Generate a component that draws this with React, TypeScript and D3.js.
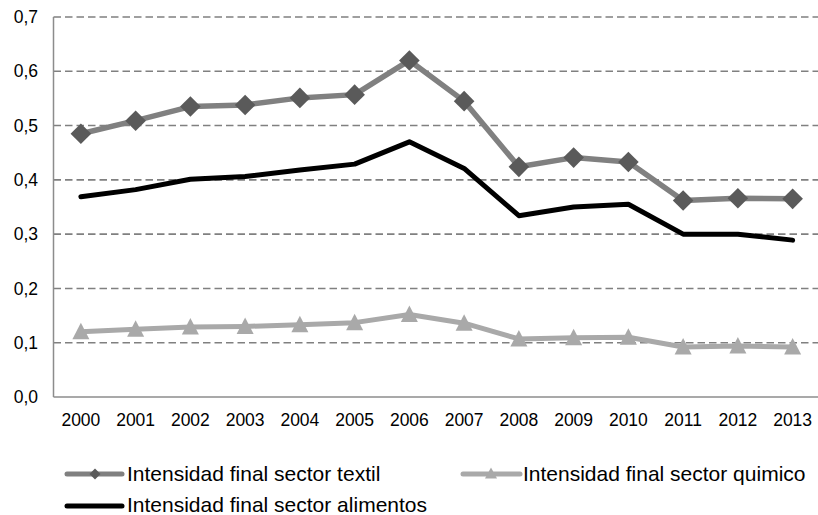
import React from "react";
import * as d3 from "d3";

const years = ["2000","2001","2002","2003","2004","2005","2006","2007","2008","2009","2010","2011","2012","2013"];
const textil = [0.485, 0.509, 0.535, 0.538, 0.551, 0.557, 0.620, 0.545, 0.424, 0.441, 0.433, 0.362, 0.366, 0.365];
const alimentos = [0.369, 0.382, 0.401, 0.406, 0.418, 0.429, 0.470, 0.421, 0.334, 0.350, 0.355, 0.300, 0.300, 0.289];
const quimico = [0.120, 0.125, 0.129, 0.130, 0.133, 0.137, 0.152, 0.136, 0.107, 0.109, 0.110, 0.092, 0.094, 0.092];
const yTicks = [0, 0.1, 0.2, 0.3, 0.4, 0.5, 0.6, 0.7];
const legendLabels = [
  "Intensidad final sector textil",
  "Intensidad final sector quimico",
  "Intensidad final sector alimentos",
];

const W = 818;
const H = 515;
const left = 53.5;
const right = 820;
const top = 17;
const bottom = 397;
const font = "'Liberation Sans', Arial, sans-serif";

const x = d3.scaleBand<string>().domain(years).range([left, right]);
const cx = (y: string) => (x(y) as number) + x.bandwidth() / 2;
const y = d3.scaleLinear().domain([0, 0.7]).range([bottom, top]);
const fmt = (v: number) => d3.format(".1f")(v).replace(".", ",");

const line = d3
  .line<number>()
  .x((_, i) => cx(years[i]))
  .y((v) => y(v));

const diamond = (r: number) => `M0,${-r}L${r},0L0,${r}L${-r},0Z`;
const triangle = (hw: number, up: number, down: number) => `M0,${-up}L${hw},${down}L${-hw},${down}Z`;

const C_TEXTIL = "#808080";
const C_DIAMOND = "#5a5a5a";
const C_QUIM = "#a9a9a9";
const C_ALIM = "#000000";

export default function App() {
  return (
    <svg width={W} height={H} style={{ position: "absolute", left: 0, top: 0, background: "#fff" }}>
      {/* gridlines */}
      {yTicks.filter((t) => t > 0).map((t) => (
        <line key={t} x1={left} x2={W} y1={y(t)} y2={y(t)} stroke="#808080" strokeWidth={1.6} strokeDasharray="7.5 4" />
      ))}
      {/* axes */}
      <line x1={left} x2={left} y1={top} y2={bottom} stroke="#8c8c8c" strokeWidth={1.5} />
      <line x1={left} x2={W} y1={bottom} y2={bottom} stroke="#8c8c8c" strokeWidth={1.5} />
      {yTicks.map((t) => (
        <text key={t} x={38} y={y(t)} dy="0.35em" textAnchor="end" fontFamily={font} fontSize={17.5} fill="#000">
          {fmt(t)}
        </text>
      ))}
      {years.map((yr) => (
        <text key={yr} x={cx(yr)} y={426} textAnchor="middle" fontFamily={font} fontSize={17.5} fill="#000">
          {yr}
        </text>
      ))}

      {/* quimico */}
      <path d={line(quimico) || ""} fill="none" stroke={C_QUIM} strokeWidth={5} strokeLinejoin="round" />
      {quimico.map((v, i) => (
        <path key={i} d={triangle(8.5, 9, 7.5)} transform={`translate(${cx(years[i])},${y(v)})`} fill={C_QUIM} />
      ))}

      {/* alimentos */}
      <path d={line(alimentos) || ""} fill="none" stroke={C_ALIM} strokeWidth={5} strokeLinejoin="round" strokeLinecap="round" />

      {/* textil */}
      <path d={line(textil) || ""} fill="none" stroke={C_TEXTIL} strokeWidth={5.5} strokeLinejoin="round" />
      {textil.map((v, i) => (
        <path key={i} d={diamond(10.3)} transform={`translate(${cx(years[i])},${y(v)})`} fill={C_DIAMOND} />
      ))}

      {/* legend */}
      <g>
        <line x1={67} x2={122} y1={474} y2={474} stroke={C_TEXTIL} strokeWidth={5} strokeLinecap="round" />
        <path d={diamond(5.5)} transform="translate(95,474)" fill={C_DIAMOND} />
        <text x={127} y={481} fontFamily={font} fontSize={21} fill="#000">{legendLabels[0]}</text>

        <line x1={463} x2={520} y1={474} y2={474} stroke={C_QUIM} strokeWidth={5} strokeLinecap="round" />
        <path d={triangle(6, 6.5, 4.5)} transform="translate(491,474)" fill={C_QUIM} />
        <text x={523} y={481} fontFamily={font} fontSize={21} fill="#000">{legendLabels[1]}</text>

        <line x1={67} x2={122} y1={506} y2={506} stroke={C_ALIM} strokeWidth={5} strokeLinecap="round" />
        <text x={127} y={512} fontFamily={font} fontSize={21} fill="#000">{legendLabels[2]}</text>
      </g>
    </svg>
  );
}
